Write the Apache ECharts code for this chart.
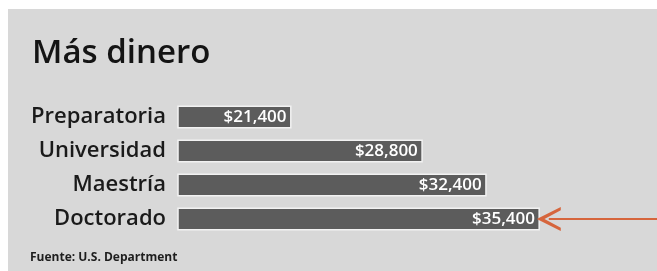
<!DOCTYPE html>
<html>
<head>
<meta charset="utf-8">
<script src="https://cdn.jsdelivr.net/npm/echarts@6/dist/echarts.min.js"></script>
<style>
  html, body { margin: 0; padding: 0; background: #fff; }
  #main { width: 657px; height: 271px; }
</style>
</head>
<body>
<div id="main"></div>
<script>
var myChart = echarts.init(document.getElementById('main'));

// datos
var niveles = ['Preparatoria', 'Universidad', 'Maestría', 'Doctorado'];
var ingresos = [21400, 28800, 32400, 35400];
var destacado = 'Doctorado';

var fmt = function (v) {
    return '$' + v.toLocaleString('en-US');
};

var option = {
    backgroundColor: '#ffffff',
    animation: false,
    graphic: [
        {
            type: 'rect',
            shape: { x: 8, y: 9, width: 649, height: 262 },
            style: { fill: '#d8d8d8' },
            z: -10
        },
        {
            type: 'text',
            left: 32,
            top: 37,
            style: {
                text: 'Más dinero',
                font: '600 33px "Open Sans"',
                fill: '#141414'
            }
        },
        {
            type: 'text',
            left: 30,
            top: 252,
            style: {
                text: 'Fuente: U.S. Department',
                font: 'bold 12px "Open Sans"',
                fill: '#1e1e1e'
            }
        }
    ],
    grid: {
        left: 178,
        right: 0,
        top: 100,
        bottom: 35,
        containLabel: false
    },
    xAxis: {
        type: 'value',
        min: 15000,
        max: 42000,
        show: false
    },
    yAxis: {
        type: 'category',
        data: niveles,
        inverse: true,
        axisLine: { show: false },
        axisTick: { show: false },
        axisLabel: {
            margin: 12,
            fontFamily: 'Open Sans',
            fontWeight: 600,
            fontSize: 22,
            color: '#1a1a1a'
        }
    },
    series: [{
        type: 'bar',
        data: ingresos,
        barWidth: 23,
        itemStyle: {
            color: '#5c5c5c',
            borderColor: '#f2f2f2',
            borderWidth: 1.5
        },
        label: {
            show: true,
            position: 'insideRight',
            distance: 5,
            formatter: function (p) { return fmt(p.value); },
            fontFamily: 'Open Sans',
            fontWeight: 600,
            fontSize: 17,
            color: '#ffffff'
        },
        markLine: {
            silent: true,
            symbol: ['path://M5,0 L10,10 L8.6,10 L5,3.2 L1.4,10 L0,10 Z', 'none'],
            symbolSize: [24, 24],
            symbolOffset: [0, 0],
            label: { show: false },
            lineStyle: { color: '#d6653c', width: 2, type: 'solid' },
            data: [[
                { coord: [35900, destacado] },
                { coord: [42000, destacado] }
            ]]
        }
    }]
};

myChart.setOption(option);
</script>
</body>
</html>
